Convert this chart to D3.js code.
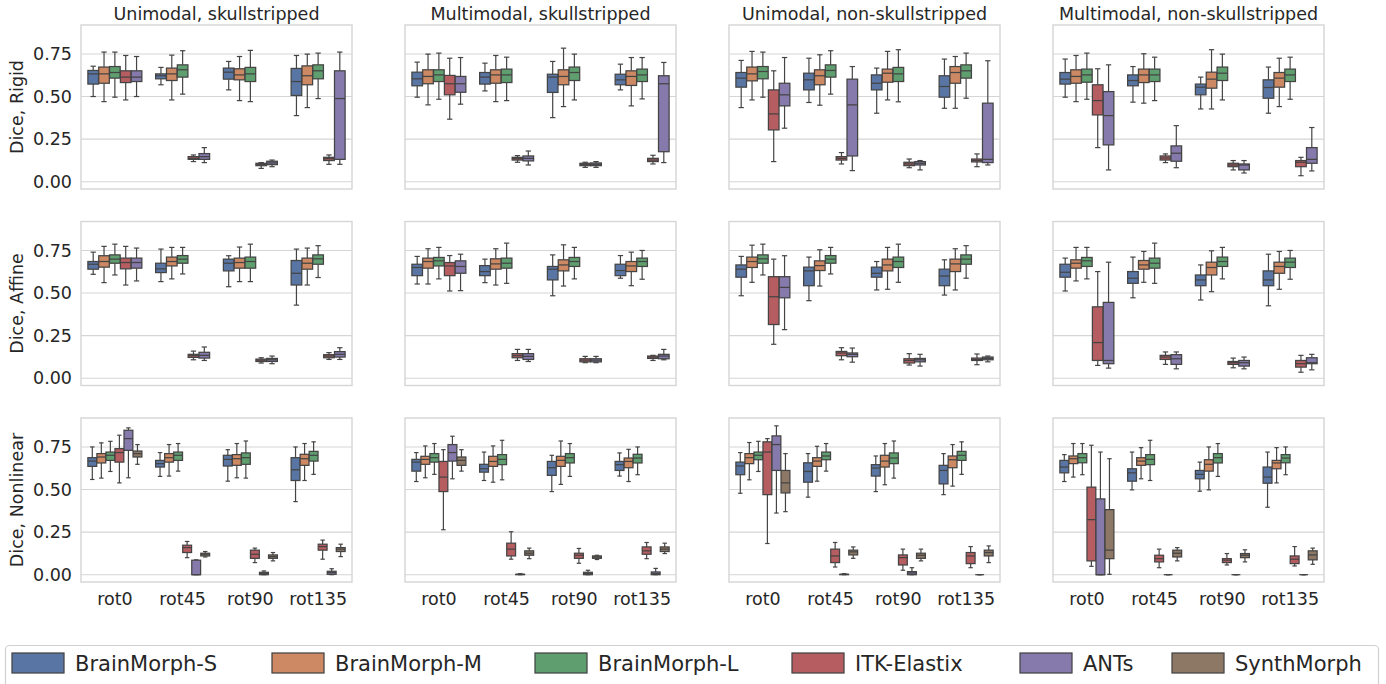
<!DOCTYPE html>
<html><head><meta charset="utf-8">
<script src="https://cdn.jsdelivr.net/npm/d3@7"></script>
<style>
html,body{margin:0;padding:0;background:#fff;}
svg{display:block;font-family:"DejaVu Sans",sans-serif;}
</style></head>
<body>
<svg id="chart" width="1386" height="684"></svg>
<script>
// ---------- data ----------
const categories = ["rot0","rot45","rot90","rot135"];
const methods = ["BrainMorph-S","BrainMorph-M","BrainMorph-L","ITK-Elastix","ANTs","SynthMorph"];
const colors = ["#5875a4","#cc8963","#5f9e6e","#b55d60","#857aab","#8d7866"];
const colTitles = ["Unimodal, skullstripped","Multimodal, skullstripped","Unimodal, non-skullstripped","Multimodal, non-skullstripped"];
const rowLabels = ["Dice, Rigid","Dice, Affine","Dice, Nonlinear"];
const yTicks = [0, 0.25, 0.5, 0.75];
// each box: [whiskerLow, q1, median, q3, whiskerHigh]
const uniSSRigid = [
 [[0.50,0.573,0.633,0.653,0.678],[0.47,0.578,0.633,0.673,0.761],[0.496,0.608,0.641,0.676,0.761],[0.48,0.582,0.614,0.651,0.741],[0.50,0.588,0.614,0.651,0.735]],
 [[0.569,0.604,0.622,0.633,0.671],[0.48,0.594,0.633,0.667,0.743],[0.514,0.614,0.657,0.686,0.769],[0.118,0.131,0.137,0.147,0.157],[0.112,0.131,0.147,0.165,0.2]],
 [[0.539,0.602,0.643,0.667,0.706],[0.476,0.598,0.627,0.663,0.735],[0.47,0.588,0.633,0.671,0.771],[0.078,0.094,0.102,0.108,0.112],[0.088,0.1,0.11,0.12,0.127]],
 [[0.388,0.506,0.588,0.665,0.741],[0.435,0.569,0.622,0.68,0.749],[0.488,0.604,0.651,0.686,0.755],[0.102,0.124,0.135,0.143,0.157],[0.102,0.131,0.488,0.651,0.761]]
];
const mulSSRigid = [
 [[0.496,0.563,0.604,0.643,0.702],[0.451,0.575,0.618,0.657,0.749],[0.484,0.588,0.627,0.657,0.755],[0.367,0.51,0.575,0.624,0.725],[0.455,0.525,0.575,0.618,0.729]],
 [[0.533,0.573,0.614,0.641,0.696],[0.47,0.578,0.627,0.657,0.741],[0.476,0.582,0.627,0.661,0.731],[0.114,0.127,0.135,0.143,0.153],[0.098,0.122,0.137,0.151,0.18]],
 [[0.376,0.524,0.614,0.631,0.706],[0.441,0.569,0.618,0.657,0.784],[0.48,0.594,0.641,0.673,0.749],[0.084,0.094,0.102,0.108,0.114],[0.084,0.094,0.102,0.11,0.118]],
 [[0.539,0.569,0.598,0.631,0.69],[0.445,0.565,0.618,0.651,0.729],[0.486,0.588,0.627,0.661,0.729],[0.104,0.118,0.127,0.137,0.155],[0.112,0.176,0.575,0.622,0.7]]
];
const uniNSRigid = [
 [[0.435,0.555,0.608,0.641,0.712],[0.48,0.592,0.633,0.673,0.765],[0.496,0.604,0.647,0.676,0.761],[0.118,0.304,0.398,0.539,0.651],[0.314,0.445,0.51,0.578,0.729]],
 [[0.465,0.539,0.598,0.637,0.725],[0.449,0.569,0.622,0.657,0.745],[0.514,0.614,0.653,0.686,0.769],[0.104,0.127,0.137,0.147,0.171],[0.065,0.151,0.451,0.602,0.676]],
 [[0.402,0.539,0.578,0.627,0.667],[0.48,0.584,0.637,0.661,0.765],[0.469,0.588,0.633,0.671,0.775],[0.082,0.094,0.104,0.114,0.133],[0.069,0.098,0.108,0.118,0.124]],
 [[0.431,0.496,0.559,0.622,0.72],[0.431,0.578,0.641,0.676,0.735],[0.49,0.608,0.651,0.686,0.755],[0.088,0.116,0.125,0.133,0.163],[0.098,0.112,0.131,0.461,0.71]]
];
const mulNSRigid = [
 [[0.496,0.573,0.602,0.641,0.72],[0.47,0.578,0.618,0.657,0.741],[0.484,0.584,0.627,0.661,0.755],[0.2,0.392,0.476,0.569,0.663],[0.069,0.216,0.388,0.529,0.686]],
 [[0.467,0.563,0.594,0.627,0.676],[0.461,0.582,0.627,0.661,0.751],[0.476,0.588,0.627,0.661,0.731],[0.112,0.127,0.139,0.151,0.163],[0.082,0.12,0.167,0.21,0.329]],
 [[0.427,0.51,0.555,0.573,0.614],[0.427,0.549,0.602,0.643,0.775],[0.48,0.594,0.637,0.673,0.749],[0.069,0.088,0.098,0.108,0.124],[0.051,0.069,0.098,0.104,0.124]],
 [[0.402,0.49,0.553,0.598,0.673],[0.441,0.555,0.608,0.641,0.725],[0.484,0.588,0.627,0.661,0.731],[0.035,0.088,0.114,0.124,0.143],[0.063,0.108,0.131,0.2,0.318]]
];
const uniSSAffine = [
 [[0.61,0.64,0.669,0.685,0.74],[0.561,0.652,0.685,0.719,0.774],[0.606,0.675,0.699,0.724,0.787],[0.547,0.642,0.679,0.705,0.774],[0.571,0.646,0.679,0.705,0.764]],
 [[0.567,0.62,0.642,0.675,0.758],[0.583,0.659,0.685,0.711,0.768],[0.612,0.675,0.699,0.72,0.768],[0.108,0.122,0.132,0.14,0.159],[0.104,0.118,0.134,0.152,0.183]],
 [[0.537,0.63,0.675,0.699,0.719],[0.567,0.646,0.679,0.705,0.77],[0.567,0.646,0.685,0.711,0.787],[0.089,0.098,0.106,0.112,0.12],[0.085,0.098,0.108,0.116,0.13]],
 [[0.429,0.547,0.616,0.691,0.758],[0.547,0.64,0.675,0.705,0.764],[0.591,0.669,0.701,0.724,0.778],[0.11,0.12,0.13,0.138,0.15],[0.11,0.124,0.14,0.156,0.179]]
];
const mulSSAffine = [
 [[0.553,0.602,0.65,0.669,0.715],[0.553,0.646,0.685,0.705,0.76],[0.583,0.659,0.689,0.709,0.768],[0.512,0.602,0.659,0.679,0.72],[0.514,0.616,0.656,0.689,0.728]],
 [[0.561,0.602,0.626,0.661,0.699],[0.547,0.64,0.671,0.701,0.76],[0.557,0.646,0.675,0.705,0.793],[0.104,0.12,0.132,0.144,0.169],[0.098,0.11,0.128,0.144,0.169]],
 [[0.484,0.577,0.64,0.656,0.724],[0.541,0.63,0.665,0.695,0.783],[0.583,0.656,0.685,0.709,0.768],[0.091,0.096,0.106,0.114,0.128],[0.091,0.096,0.106,0.114,0.128]],
 [[0.587,0.602,0.632,0.669,0.72],[0.543,0.626,0.659,0.685,0.74],[0.581,0.656,0.685,0.705,0.75],[0.104,0.116,0.124,0.13,0.134],[0.108,0.114,0.13,0.14,0.169]]
];
const uniNSAffine = [
 [[0.484,0.593,0.64,0.665,0.715],[0.563,0.65,0.685,0.711,0.781],[0.606,0.675,0.701,0.724,0.787],[0.199,0.315,0.478,0.596,0.699],[0.285,0.472,0.533,0.596,0.719]],
 [[0.455,0.543,0.63,0.652,0.711],[0.541,0.632,0.661,0.689,0.754],[0.612,0.675,0.699,0.72,0.768],[0.108,0.132,0.148,0.157,0.179],[0.094,0.126,0.14,0.148,0.177]],
 [[0.518,0.593,0.616,0.652,0.685],[0.522,0.63,0.665,0.699,0.768],[0.563,0.65,0.685,0.711,0.787],[0.077,0.089,0.104,0.114,0.144],[0.071,0.096,0.108,0.116,0.14]],
 [[0.488,0.543,0.6,0.64,0.695],[0.518,0.626,0.671,0.699,0.76],[0.587,0.669,0.699,0.724,0.778],[0.079,0.104,0.11,0.118,0.142],[0.096,0.108,0.116,0.124,0.13]]
];
const mulNSAffine = [
 [[0.512,0.593,0.622,0.669,0.705],[0.571,0.646,0.675,0.695,0.768],[0.583,0.656,0.689,0.709,0.768],[0.075,0.104,0.209,0.419,0.626],[0.059,0.085,0.104,0.445,0.681]],
 [[0.472,0.557,0.587,0.626,0.711],[0.563,0.64,0.665,0.691,0.744],[0.557,0.646,0.675,0.705,0.793],[0.081,0.11,0.124,0.134,0.154],[0.055,0.081,0.114,0.138,0.154]],
 [[0.459,0.543,0.577,0.606,0.665],[0.508,0.606,0.65,0.681,0.748],[0.583,0.656,0.685,0.711,0.768],[0.061,0.081,0.091,0.098,0.118],[0.055,0.071,0.091,0.104,0.124]],
 [[0.425,0.543,0.577,0.63,0.728],[0.522,0.616,0.656,0.681,0.744],[0.581,0.65,0.681,0.705,0.75],[0.035,0.065,0.085,0.104,0.134],[0.049,0.085,0.091,0.12,0.14]]
];
const uniSSNonlin = [
 [[0.559,0.636,0.667,0.687,0.75],[0.567,0.656,0.691,0.711,0.774],[0.606,0.671,0.701,0.72,0.783],[0.539,0.661,0.717,0.74,0.819],[0.569,0.73,0.799,0.848,0.862],[0.648,0.691,0.711,0.726,0.764]],
 [[0.577,0.632,0.652,0.671,0.717],[0.579,0.661,0.687,0.711,0.764],[0.608,0.671,0.701,0.72,0.77],[0.1,0.13,0.159,0.173,0.195],[0,0,0,0.085,0.087],[0.104,0.11,0.12,0.126,0.136]],
 [[0.549,0.638,0.677,0.701,0.734],[0.569,0.642,0.681,0.705,0.77],[0.567,0.648,0.687,0.715,0.785],[0.071,0.096,0.12,0.144,0.156],[0,0,0.006,0.014,0.022],[0.081,0.096,0.106,0.116,0.13]],
 [[0.429,0.553,0.616,0.687,0.75],[0.553,0.642,0.681,0.707,0.77],[0.589,0.667,0.701,0.724,0.78],[0.091,0.144,0.165,0.179,0.203],[0,0.002,0.012,0.02,0.035],[0.106,0.136,0.15,0.159,0.179]]
];
const mulSSNonlin = [
 [[0.547,0.608,0.661,0.677,0.717],[0.569,0.648,0.677,0.695,0.756],[0.589,0.661,0.687,0.711,0.77],[0.264,0.488,0.573,0.665,0.734],[0.563,0.667,0.717,0.764,0.813],[0.608,0.642,0.671,0.691,0.734]],
 [[0.553,0.602,0.622,0.648,0.72],[0.543,0.636,0.665,0.695,0.756],[0.557,0.646,0.677,0.705,0.789],[0.091,0.11,0.15,0.185,0.252],[0,0,0.002,0.002,0.006],[0.094,0.114,0.126,0.14,0.156]],
 [[0.488,0.583,0.628,0.665,0.701],[0.53,0.636,0.671,0.695,0.785],[0.577,0.656,0.687,0.711,0.77],[0.067,0.096,0.114,0.126,0.154],[0,0,0.006,0.014,0.026],[0.089,0.096,0.104,0.11,0.114]],
 [[0.579,0.612,0.646,0.665,0.715],[0.547,0.628,0.665,0.685,0.736],[0.587,0.656,0.685,0.707,0.75],[0.094,0.12,0.14,0.163,0.189],[0,0,0.006,0.016,0.037],[0.124,0.136,0.15,0.163,0.185]]
];
const uniNSNonlin = [
 [[0.478,0.587,0.638,0.661,0.717],[0.557,0.652,0.687,0.711,0.776],[0.606,0.675,0.701,0.72,0.783],[0.183,0.47,0.72,0.78,0.799],[0.362,0.612,0.764,0.815,0.874],[0.37,0.48,0.539,0.612,0.711]],
 [[0.455,0.543,0.606,0.657,0.711],[0.549,0.636,0.667,0.687,0.754],[0.608,0.675,0.697,0.72,0.77],[0.045,0.071,0.11,0.15,0.189],[0,0,0.002,0.002,0.006],[0.096,0.116,0.134,0.144,0.163]],
 [[0.488,0.579,0.626,0.646,0.697],[0.528,0.632,0.667,0.701,0.77],[0.567,0.652,0.685,0.715,0.785],[0.026,0.057,0.1,0.116,0.15],[0,0,0.01,0.018,0.041],[0.081,0.096,0.114,0.126,0.15]],
 [[0.47,0.533,0.612,0.642,0.711],[0.52,0.628,0.675,0.697,0.764],[0.589,0.671,0.701,0.724,0.78],[0.041,0.065,0.11,0.13,0.165],[0,0,0,0,0],[0.071,0.11,0.13,0.144,0.169]]
];
const mulNSNonlin = [
 [[0.547,0.598,0.632,0.671,0.705],[0.573,0.652,0.681,0.697,0.77],[0.587,0.657,0.687,0.711,0.77],[0.049,0.081,0.323,0.514,0.76],[0,0,0,0.445,0.72],[0.002,0.094,0.144,0.382,0.681]],
 [[0.498,0.549,0.598,0.622,0.72],[0.563,0.642,0.667,0.687,0.746],[0.553,0.646,0.677,0.705,0.789],[0.041,0.075,0.094,0.114,0.15],[0,0,0,0,0],[0.081,0.104,0.126,0.144,0.159]],
 [[0.49,0.563,0.589,0.612,0.661],[0.498,0.608,0.648,0.675,0.75],[0.577,0.656,0.687,0.711,0.77],[0.057,0.071,0.085,0.094,0.124],[0,0,0,0,0],[0.075,0.1,0.114,0.124,0.146]],
 [[0.396,0.537,0.573,0.632,0.72],[0.539,0.622,0.656,0.671,0.746],[0.587,0.657,0.685,0.705,0.75],[0.051,0.065,0.091,0.11,0.165],[0,0,0,0,0],[0.061,0.087,0.116,0.14,0.156]]
];
const panelData = [
 [uniSSRigid, mulSSRigid, uniNSRigid, mulNSRigid],
 [uniSSAffine, mulSSAffine, uniNSAffine, mulNSAffine],
 [uniSSNonlin, mulSSNonlin, uniNSNonlin, mulNSNonlin]
];

// ---------- layout ----------
const svg = d3.select("#chart");
const colLeft = [81, 405, 729, 1053], panelW = 271;
const rowTop = [25, 221.5, 418], panelH = 164;
const textColor = "#262626", lineColor = "#444444", gridColor = "#d5d5d5";
const fontSize = 17.5;

panelData.forEach((rowPanels, r) => {
  rowPanels.forEach((pdata, c) => {
    const left = colLeft[c], top = rowTop[r];
    const g = svg.append("g");
    const y = d3.scaleLinear().domain([-0.043, 0.92]).range([top + panelH, top]);
    const x = d3.scaleBand().domain(categories).range([left, left + panelW]);
    g.selectAll("line.grid").data(yTicks).join("line")
      .attr("x1", left).attr("x2", left + panelW)
      .attr("y1", d => y(d)).attr("y2", d => y(d))
      .attr("stroke", gridColor).attr("stroke-width", 1.1);
    g.append("rect").attr("x", left).attr("y", top).attr("width", panelW).attr("height", panelH)
      .attr("fill", "none").attr("stroke", gridColor).attr("stroke-width", 1.4);
    const nh = pdata[0].length;
    const bw = x.bandwidth();
    const each = 0.8 * bw / nh;
    const boxW = each * 0.98;
    pdata.forEach((cat, ci) => {
      const cx0 = x(categories[ci]) + bw / 2;
      cat.forEach((b, hi) => {
        const cx = cx0 + (hi - (nh - 1) / 2) * each;
        const [lo, q1, med, q3, hiV] = b;
        const bg = g.append("g");
        bg.append("line").attr("x1", cx).attr("x2", cx).attr("y1", y(q3)).attr("y2", y(hiV))
          .attr("stroke", lineColor).attr("stroke-width", 1.2);
        bg.append("line").attr("x1", cx).attr("x2", cx).attr("y1", y(q1)).attr("y2", y(lo))
          .attr("stroke", lineColor).attr("stroke-width", 1.2);
        [lo, hiV].forEach(v => {
          bg.append("line").attr("x1", cx - boxW / 4).attr("x2", cx + boxW / 4)
            .attr("y1", y(v)).attr("y2", y(v)).attr("stroke", lineColor).attr("stroke-width", 1.2);
        });
        bg.append("rect").attr("x", cx - boxW / 2).attr("width", boxW)
          .attr("y", y(q3)).attr("height", Math.max(0, y(q1) - y(q3)))
          .attr("fill", colors[hi]).attr("stroke", lineColor).attr("stroke-width", 1.25);
        bg.append("line").attr("x1", cx - boxW / 2).attr("x2", cx + boxW / 2)
          .attr("y1", y(med)).attr("y2", y(med)).attr("stroke", lineColor).attr("stroke-width", 1.25);
      });
    });
    if (c === 0) {
      const ax = g.append("g").attr("transform", `translate(${left},0)`)
        .call(d3.axisLeft(y).tickValues(yTicks).tickFormat(d3.format(".2f")).tickSize(0).tickPadding(9));
      ax.select(".domain").remove();
      ax.selectAll("text").attr("font-size", fontSize).attr("fill", textColor)
        .attr("font-family", "DejaVu Sans");
      g.append("text").attr("transform", `translate(${18},${top + panelH / 2}) rotate(-90)`)
        .attr("text-anchor", "middle").attr("dominant-baseline", "middle")
        .attr("font-size", fontSize).attr("fill", textColor).text(rowLabels[r]);
    }
    if (r === 2) {
      const ax = g.append("g").attr("transform", `translate(0,${top + panelH})`)
        .call(d3.axisBottom(x).tickSize(0).tickPadding(11));
      ax.select(".domain").remove();
      ax.selectAll("text").attr("font-size", fontSize).attr("fill", textColor)
        .attr("font-family", "DejaVu Sans");
    }
    if (r === 0) {
      g.append("text").attr("x", left + panelW / 2).attr("y", 19.5)
        .attr("text-anchor", "middle").attr("font-size", fontSize).attr("fill", textColor)
        .text(colTitles[c]);
    }
  });
});

// ---------- legend ----------
const leg = svg.append("g");
leg.append("rect").attr("x", 5.5).attr("y", 645.5).attr("width", 1373).attr("height", 45)
  .attr("rx", 4).attr("fill", "#fff").attr("stroke", "#d0d0d0").attr("stroke-width", 1.2);
const legX = [12, 272, 535, 792, 1020, 1172];
methods.forEach((m, i) => {
  leg.append("rect").attr("x", legX[i]).attr("y", 653).attr("width", 52).attr("height", 20)
    .attr("fill", colors[i]).attr("stroke", lineColor).attr("stroke-width", 1.25);
  leg.append("text").attr("x", legX[i] + 63).attr("y", 671).attr("font-size", 21)
    .attr("fill", textColor).text(m);
});
</script>
</body></html>
